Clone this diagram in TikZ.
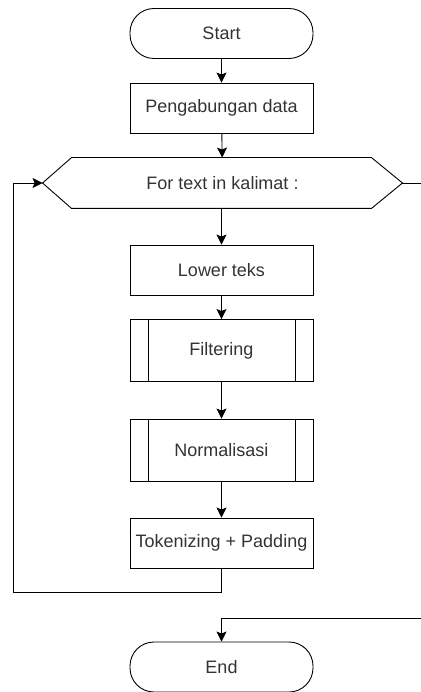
\documentclass[tikz,border=0pt]{standalone}
\usepackage{fontspec}
\setmainfont{Liberation Sans}
\usetikzlibrary{positioning,arrows.meta}

\begin{document}
\begin{tikzpicture}[x=1pt,y=-1pt,>={Stealth[length=10pt,width=10pt,inset=2pt]},
  line width=0.9pt,
  every node/.style={font=\fontsize{18}{21}\selectfont,text=black!80},
  proc/.style={draw,minimum width=183pt,minimum height=50pt,inner sep=0pt},
  term/.style={proc,rounded corners=24pt},
  subproc/.style={proc,minimum height=62pt,path picture={
    \draw ([xshift=18pt]path picture bounding box.north west) -- ([xshift=18pt]path picture bounding box.south west);
    \draw ([xshift=-18pt]path picture bounding box.north east) -- ([xshift=-18pt]path picture bounding box.south east);}}]
\useasboundingbox (0,0) rectangle (420,692);
\node[term] (start) at (221.5,33.5) {Start};
\node[proc] (gabung) at (221.5,108) {Pengabungan data};
\node[minimum width=359pt,minimum height=50pt,inner sep=0pt] (loop) at (222.5,183) {For text in kalimat :};
\draw (loop.west) -- ([xshift=29pt]loop.north west) -- ([xshift=-31pt]loop.north east) -- (loop.east)
  -- ([xshift=-31pt]loop.south east) -- ([xshift=29pt]loop.south west) -- cycle;
\node[proc] (lower) at (221.5,270) {Lower teks};
\node[subproc] (filter) at (221.5,350.5) {Filtering};
\node[subproc] (norm) at (221.5,450) {Normalisasi};
\node[proc] (token) at (221.5,543) {Tokenizing + Padding};
\node[term] (end) at (221.5,667) {End};
\coordinate (back) at (13,592);
\coordinate (out) at (440,618);
\draw[->] (start) -- (gabung);
\draw[->] (gabung) -- (loop);
\draw[->] (loop.south -| lower) -- (lower);
\draw[->] (lower) -- (filter);
\draw[->] (filter) -- (norm);
\draw[->] (norm) -- (token);
\draw[->] (token) |- (back) |- (loop.west);
\draw[->] (loop.east) -| (out) -| (end);
\end{tikzpicture}
\end{document}
